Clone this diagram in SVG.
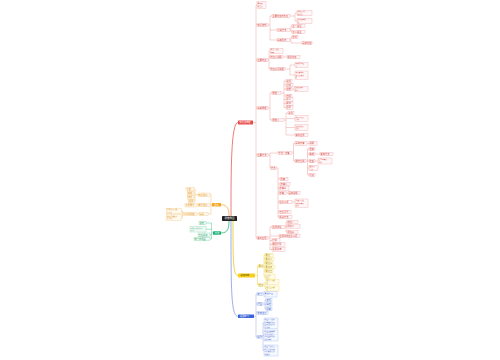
<svg xmlns="http://www.w3.org/2000/svg" width="500" height="360" viewBox="0 0 500 360">
<style>
text{font-family:"Noto Sans CJK SC","Noto Sans",sans-serif;font-size:2.2px}
text.m{font-size:1.7px}
.r{fill:#fff7f7;stroke:#f0a0a0;stroke-width:.35}.rt{fill:#d64541}
.o{fill:#fffaf0;stroke:#f7c67a;stroke-width:.35}.ot{fill:#e08e0b}
.g{fill:#f3fbf7;stroke:#7fd1a8;stroke-width:.35}.gt{fill:#1a9e62}
.y{fill:#fffde8;stroke:#f0d860;stroke-width:.35}.yt{fill:#b99400}
.b{fill:#f5f8ff;stroke:#9fb4ec;stroke-width:.35}.bt{fill:#3a5fcd}
.w{fill:#fff}
.lr{fill:none;stroke:#e88b8b;stroke-width:.4}
.lo{fill:none;stroke:#f5b041;stroke-width:.4}
.lg{fill:none;stroke:#2cb67a;stroke-width:.4}
.ly{fill:none;stroke:#e8c81a;stroke-width:.4}
.lb{fill:none;stroke:#7f9be4;stroke-width:.4}
</style>
<rect width="500" height="360" fill="#fff"/>
<g id="connectors">
<path class="lr" style="stroke-width:.8;stroke:#e85a5a" d="M231,216 C231,170 231,122.5 238,122.5"/>
<path class="ly" style="stroke-width:.8" d="M233,221 C233,260 233,275.5 238,275.5"/>
<path class="lb" style="stroke-width:.8" d="M231,221 C231,290 231,316.3 238,316.3"/>
<path class="lo" style="stroke-width:.8" d="M221,204.7 C228,204.7 229,210 229,216"/>
<path class="lg" style="stroke-width:.8" d="M221,233 C228,233 229,228 229,221"/>
<path class="lr" d="M253,122.5H256M256,5V238M256,5H257M256,25H257M256,60H257M256,108H257M256,155H257M256,238H257"/>
<path class="lr" d="M268,25H270M270,16V40M270,16H272M270,30H277M270,40H277M290,16H295M295,13V21M295,13H297M295,21H297M290,30H291M291,26V32M291,26H292M291,32H292M290,40H291M291,37V43M291,37H292M291,43H302"/>
<path class="lr" d="M268,60H269M269,51V69M269,51H270M269,57H270M269,69H270M283,57H287M285,69H290M290,65V75M290,65H295M290,75H295"/>
<path class="lr" d="M268,108H270M270,93V120M270,93H272M270,120H272M281,93H284M284,81V107.5M284,81H286M284,85H286M284,89H286M284,96H286M284,99.5H286M284,103.5H286M284,107.5H286M292,89H294M284,120H286M286,113V135M286,113H288M286,118.5H295M286,127.5H295M286,135H295"/>
<path class="lr" d="M268,155H270M270,153V168M270,153H278M270,168H270.5M292,153H293.5M293.5,143.5V161M293.5,143.5H295M293.5,161H295M307,143.5H309M306,161H307.5M307.5,149V175M307.5,149H309M307.5,154H309M307.5,161H309M307.5,168H309M307.5,175H309M315,154H320M315,161H318"/>
<path class="lr" d="M276.5,168H278M278,168V217M278,179H280M278,184H280M278,188.5H279M278,193H279M278,202H279M278,212H279M278,217H279M286,193H288M292,202H295"/>
<path class="lr" d="M268,238H270M270,227V249.5M270,227H272M270,236H279M270,240.5H272M270,244.5H272M270,249.5H272M285,227H286M286,222V232M286,222H287M286,226.5H287M286,232H287"/>
<path class="ly" d="M255,275.5H257.5M257.5,266V285M257.5,266H258.5M257.5,285H258.5M263.5,266H264M264,255V276.5M264,255H265M264,259H265M264,263H265M264,267H265M264,271H265M264,276.5H265M263.5,285H265M265,282V288.5M265,282H266M265,288.5H266"/>
<path class="lb" d="M254,316.3H256M256,294V337M256,294H257M256,304H257M256,313H257M256,337H257M263,294H264M263,304H265M265,300V309M265,300H266M265,304.5H266M265,309H266M262,337H263M263,323V350.5M263,323H264M263,335.5H264M263,350.5H264"/>
<path class="lo" d="M212,204.7H211M211,194.7V214M210,194.7H211M210,205H211M208,214H211M198,194.7H195M195,189V201.3M194,189H195M194,193.3H195M194,197.3H195M194,201.3H195M197,205H198M197,214H199M183.5,214H182.5M182.5,211V217.5M181.5,211H182.5M181.5,217.5H182.5"/>
<path class="lg" d="M213,233H211.5M211.5,223V239M206,223H211.5M206,229.2H211.5M210,234.7H211.5M210,239H211.5"/>
</g>
<g id="root"><rect x="222" y="216" width="15" height="5" rx=".6" fill="#222"/><text class="w" x="224.6" y="219.4" style="font-size:2.5px">思维导图</text></g>
<g id="red-main"><rect x="238" y="120.5" width="15" height="4" rx=".5" fill="#e84a4a"/><text class="w" x="239.6" y="123.3">知识点梳理</text></g>
<g id="rA1"><rect class="r" x="257" y="1.5" width="9" height="7"/><text class="rt m" x="257.6" y="4">基本概<tspan x="257.6" dy="2.6">念定义</tspan></text></g>
<g id="rA2"><rect class="r" x="257" y="23.3" width="11" height="3.4"/><text class="rt" x="257.6" y="25.8">知识结构</text></g>
<g id="rB1"><rect class="r" x="272" y="14.3" width="18" height="3.4"/><text class="rt" x="272.6" y="16.8">主要内容与特点</text></g>
<g id="rB1a"><rect class="r" x="297" y="10.5" width="15" height="5"/><text class="rt m" x="297.6" y="12.4">具体方法步<tspan x="297.6" dy="2.5">骤说明</tspan></text></g>
<g id="rB1b"><rect class="r" x="297" y="18.5" width="15" height="5"/><text class="rt m" x="297.6" y="20.4">相关原理分<tspan x="297.6" dy="2.5">析</tspan></text></g>
<g id="rB2"><rect class="r" x="277" y="28.3" width="13" height="3.4"/><text class="rt" x="277.6" y="30.8">分类方法</text></g>
<g id="rB2a"><rect class="r" x="292" y="24.3" width="13" height="3.4"/><text class="rt" x="292.6" y="26.8">第一类型</text></g>
<g id="rB2b"><rect class="r" x="292" y="30.3" width="13" height="3.4"/><text class="rt" x="292.6" y="32.8">第二类型</text></g>
<g id="rB3"><rect class="r" x="277" y="38.3" width="13" height="3.4"/><text class="rt" x="277.6" y="40.8">基本形式</text></g>
<g id="rB3a"><rect class="r" x="292" y="35.3" width="6" height="3.4"/><text class="rt" x="292.6" y="37.8">形式</text></g>
<g id="rB3b"><rect class="r" x="302" y="41.3" width="10" height="3.4"/><text class="rt" x="302.6" y="43.8">具体内容</text></g>
<g id="rA3"><rect class="r" x="257" y="58.3" width="11" height="3.4"/><text class="rt" x="257.6" y="60.8">主要特点</text></g>
<g id="rC1"><rect class="r" x="270" y="48.5" width="13" height="5"/><text class="rt m" x="270.6" y="50.4">特点一说明<tspan x="270.6" dy="2.5">内容</tspan></text></g>
<g id="rC2"><rect class="r" x="270" y="55.3" width="13" height="3.4"/><text class="rt" x="270.6" y="57.8">特点二说明</text></g>
<g id="rC2a"><rect class="r" x="287" y="55.3" width="13" height="3.4"/><text class="rt" x="287.6" y="57.8">相关内容</text></g>
<g id="rC3"><rect class="r" x="270" y="67.3" width="15" height="3.4"/><text class="rt" x="270.6" y="69.8">特点三及说明</text></g>
<g id="rC3a"><rect class="r" x="295" y="62.5" width="13" height="5"/><text class="rt m" x="295.6" y="64.4">具体表现形<tspan x="295.6" dy="2.5">式</tspan></text></g>
<g id="rC3b"><rect class="r" x="295" y="71" width="13" height="8.2"/><text class="rt m" x="295.6" y="73">主要影响因<tspan x="295.6" dy="2.5">素与结果分</tspan><tspan x="295.6" dy="2.5">析</tspan></text></g>
<g id="rA4"><rect class="r" x="257" y="106.3" width="11" height="3.4"/><text class="rt" x="257.6" y="108.8">基本原理</text></g>
<g id="rD1"><rect class="r" x="272" y="91.3" width="9" height="3.4"/><text class="rt" x="272.6" y="93.8">原理一</text></g>
<g id="rD1a"><rect class="r" x="286" y="79.3" width="6" height="3.4"/><text class="rt" x="286.6" y="81.8">条件</text></g>
<g id="rD1b"><rect class="r" x="286" y="83.3" width="7" height="3.4"/><text class="rt" x="286.6" y="85.8">过程</text></g>
<g id="rD1c"><rect class="r" x="286" y="87.3" width="6" height="3.4"/><text class="rt" x="286.6" y="89.8">结果</text></g>
<g id="rD1c1"><rect class="r" x="294" y="86.5" width="14" height="5"/><text class="rt m" x="294.6" y="88.4">结果的具体<tspan x="294.6" dy="2.5">表现</tspan></text></g>
<g id="rD1d"><rect class="r" x="286" y="94.3" width="6" height="3.4"/><text class="rt" x="286.6" y="96.8">作用</text></g>
<g id="rD1e"><rect class="r" x="286" y="97.8" width="7" height="3.4"/><text class="rt" x="286.6" y="100.3">意义</text></g>
<g id="rD1f"><rect class="r" x="286" y="101.8" width="7" height="3.4"/><text class="rt" x="286.6" y="104.3">影响</text></g>
<g id="rD1g"><rect class="r" x="286" y="105.8" width="7" height="3.4"/><text class="rt" x="286.6" y="108.3">应用</text></g>
<g id="rD2"><rect class="r" x="272" y="118.3" width="12" height="3.4"/><text class="rt" x="272.6" y="120.8">原理二</text></g>
<g id="rD2a"><rect class="r" x="288" y="111.3" width="6" height="3.4"/><text class="rt" x="288.6" y="113.8">条件</text></g>
<g id="rD2b"><rect class="r" x="295" y="115.5" width="13" height="6"/><text class="rt m" x="295.6" y="117.8">主要过程及<tspan x="295.6" dy="2.5">步骤</tspan></text></g>
<g id="rD2c"><rect class="r" x="295" y="124.5" width="13" height="6"/><text class="rt m" x="295.6" y="126.8">结果分析与<tspan x="295.6" dy="2.5">说明</tspan></text></g>
<g id="rD2d"><rect class="r" x="295" y="133.3" width="13" height="3.4"/><text class="rt" x="295.6" y="135.8">实际应用</text></g>
<g id="rA5"><rect class="r" x="257" y="153.3" width="11" height="3.4"/><text class="rt" x="257.6" y="155.8">主要方法</text></g>
<g id="rE1"><rect class="r" x="278" y="151.3" width="14" height="3.4"/><text class="rt" x="278.6" y="153.8">方法一步骤</text></g>
<g id="rE1a"><rect class="r" x="295" y="141.5" width="12" height="4"/><text class="rt" x="295.6" y="144.3">具体步骤</text></g>
<g id="rE1a1"><rect class="r" x="309" y="141.8" width="8" height="3.4"/><text class="rt" x="309.6" y="144.3">说明</text></g>
<g id="rE1b"><rect class="r" x="295" y="159.3" width="11" height="3.4"/><text class="rt" x="295.6" y="161.8">操作过程</text></g>
<g id="rE1b1"><rect class="r" x="309" y="147.3" width="6" height="3.4"/><text class="rt" x="309.6" y="149.8">准备</text></g>
<g id="rE1b2"><rect class="r" x="309" y="152.3" width="6" height="3.4"/><text class="rt" x="309.6" y="154.8">实施</text></g>
<g id="rE1b2a"><rect class="r" x="320" y="152.3" width="13" height="3.4"/><text class="rt" x="320.6" y="154.8">实施方法</text></g>
<g id="rE1b3"><rect class="r" x="309" y="159.3" width="6" height="3.4"/><text class="rt" x="309.6" y="161.8">检查</text></g>
<g id="rE1b3a"><rect class="r" x="318" y="158" width="14" height="6"/><text class="rt m" x="318.6" y="160.3">检查内容及<tspan x="318.6" dy="2.5">标准</tspan></text></g>
<g id="rE1b4"><rect class="r" x="309" y="165.5" width="9" height="5"/><text class="rt m" x="309.6" y="167.4">总结与<tspan x="309.6" dy="2.5">反思</tspan></text></g>
<g id="rE1b5"><rect class="r" x="309" y="173.3" width="6" height="3.4"/><text class="rt" x="309.6" y="175.8">改进</text></g>
<g id="rE2"><rect class="r" x="270.5" y="166.3" width="6" height="3.4"/><text class="rt" x="271.1" y="168.8">方法</text></g>
<g id="rE2a"><rect class="r" x="280" y="177.3" width="8" height="3.4"/><text class="rt" x="280.6" y="179.8">步骤一</text></g>
<g id="rE2b"><rect class="r" x="280" y="182.3" width="10" height="3.4"/><text class="rt" x="280.6" y="184.8">步骤二</text></g>
<g id="rE2c"><rect class="r" x="279" y="186.8" width="10" height="3.4"/><text class="rt" x="279.6" y="189.3">步骤三</text></g>
<g id="rE2d"><rect class="r" x="279" y="191.3" width="7" height="3.4"/><text class="rt" x="279.6" y="193.8">步骤</text></g>
<g id="rE2d1"><rect class="r" x="288" y="191.3" width="12" height="3.4"/><text class="rt" x="288.6" y="193.8">具体说明</text></g>
<g id="rE2e"><rect class="r" x="279" y="200.3" width="13" height="3.4"/><text class="rt" x="279.6" y="202.8">注意事项</text></g>
<g id="rE2e1"><rect class="r" x="295" y="199" width="13" height="8.2"/><text class="rt m" x="295.6" y="201">注意事项的<tspan x="295.6" dy="2.5">具体内容与</tspan><tspan x="295.6" dy="2.5">说明</tspan></text></g>
<g id="rE2f"><rect class="r" x="279" y="210.3" width="12" height="3.4"/><text class="rt" x="279.6" y="212.8">常见问题</text></g>
<g id="rE2g"><rect class="r" x="279" y="215.3" width="13" height="3.4"/><text class="rt" x="279.6" y="217.8">解决方法</text></g>
<g id="rA6"><rect class="r" x="257" y="236.3" width="11" height="3.4"/><text class="rt" x="257.6" y="238.8">实际应用</text></g>
<g id="rF1"><rect class="r" x="272" y="225.3" width="13" height="3.4"/><text class="rt" x="272.6" y="227.8">应用领域</text></g>
<g id="rF1a"><rect class="r" x="287" y="220.3" width="11" height="3.4"/><text class="rt" x="287.6" y="222.8">领域一</text></g>
<g id="rF1b"><rect class="r" x="287" y="224.8" width="13" height="3.4"/><text class="rt" x="287.6" y="227.3">领域二</text></g>
<g id="rF1c"><rect class="r" x="287" y="230.3" width="11" height="3.4"/><text class="rt" x="287.6" y="232.8">领域三</text></g>
<g id="rF2"><rect class="r" x="279" y="234.3" width="21" height="3.4"/><text class="rt" x="279.6" y="236.8">应用中的注意事项</text></g>
<g id="rF3"><rect class="r" x="272" y="238.8" width="8" height="3.4"/><text class="rt" x="272.6" y="241.3">案例</text></g>
<g id="rF4"><rect class="r" x="272" y="242.8" width="13" height="3.4"/><text class="rt" x="272.6" y="245.3">典型案例</text></g>
<g id="rF5"><rect class="r" x="272" y="247.8" width="13" height="3.4"/><text class="rt" x="272.6" y="250.3">拓展延伸</text></g>
<g id="yellow-main"><rect x="238" y="273.5" width="17" height="4" rx=".5" fill="#f7cf1d"/><text x="240.5" y="276.3" fill="#5a4a00">总结归纳</text></g>
<g id="yY1"><rect class="y" x="258.5" y="264.3" width="5" height="3.4"/><text class="yt" x="258.8" y="266.8">要点</text></g>
<g id="yY1a"><rect class="y" x="265" y="253.3" width="8" height="3.4"/><text class="yt" x="265.6" y="255.8">要点一</text></g>
<g id="yY1b"><rect class="y" x="265" y="257.3" width="9" height="3.4"/><text class="yt" x="265.6" y="259.8">要点二</text></g>
<g id="yY1c"><rect class="y" x="265" y="261.3" width="8" height="3.4"/><text class="yt" x="265.6" y="263.8">要点三</text></g>
<g id="yY1d"><rect class="y" x="265" y="265.3" width="10" height="3.4"/><text class="yt" x="265.6" y="267.8">要点四</text></g>
<g id="yY1e"><rect class="y" x="265" y="269.3" width="8" height="3.4"/><text class="yt" x="265.6" y="271.8">要点五</text></g>
<g id="yY1f"><rect class="y" x="265" y="274" width="10" height="5"/><text class="yt m" x="265.6" y="275.9">要点六<tspan x="265.6" dy="2.5">说明</tspan></text></g>
<g id="yY2"><rect class="y" x="258.5" y="283.3" width="5" height="3.4"/><text class="yt" x="258.8" y="285.8">难点</text></g>
<g id="yY2a"><rect class="y" x="266" y="279.5" width="13" height="5"/><text class="yt m" x="266.6" y="281.4">难点一及解<tspan x="266.6" dy="2.5">析</tspan></text></g>
<g id="yY2b"><rect class="y" x="266" y="286" width="13" height="5"/><text class="yt m" x="266.6" y="287.9">难点二及解<tspan x="266.6" dy="2.5">析</tspan></text></g>
<g id="blue-main"><rect x="238" y="314.5" width="16" height="3.6" rx=".5" fill="#3c64d8"/><text class="w" x="240" y="317.1">拓展练习</text></g>
<g id="bG1"><rect class="b" x="257" y="292.3" width="6" height="3.4"/><text class="bt" x="257.6" y="294.8">练习</text></g>
<g id="bG1a"><rect class="b" x="264" y="291.5" width="13" height="5.5"/><text class="bt m" x="264.6" y="293.5">基础练习题<tspan x="264.6" dy="2.5">目</tspan></text></g>
<g id="bG2"><rect class="b" x="257" y="302.3" width="6" height="3.4"/><text class="bt" x="257.6" y="304.8">题型</text></g>
<g id="bG2a"><rect class="b" x="266" y="298.3" width="6" height="3.4"/><text class="bt" x="266.6" y="300.8">选择</text></g>
<g id="bG2b"><rect class="b" x="266" y="302.8" width="6" height="3.4"/><text class="bt" x="266.6" y="305.3">填空</text></g>
<g id="bG2c"><rect class="b" x="266" y="307.3" width="6" height="3.4"/><text class="bt" x="266.6" y="309.8">判断</text></g>
<g id="bG3"><rect class="b" x="257" y="311.3" width="11" height="3.4"/><text class="bt" x="257.6" y="313.8">参考答案</text></g>
<g id="bG4"><rect class="b" x="257" y="335.3" width="5" height="3.4"/><text class="bt" x="257.3" y="337.8">例题</text></g>
<g id="bG4a"><rect class="b" x="264" y="318" width="14" height="10.5"/><text class="bt m" x="264.5" y="320">例题一已知条<tspan x="264.5" dy="2.5">件求解相关问</tspan><tspan x="264.5" dy="2.5">题并说明过程</tspan><tspan x="264.5" dy="2.5">与结果</tspan></text></g>
<g id="bG4b"><rect class="b" x="264" y="330" width="14" height="11"/><text class="bt m" x="264.5" y="332.2">例题二根据所<tspan x="264.5" dy="2.5">学知识分析下</tspan><tspan x="264.5" dy="2.5">列问题并作答</tspan><tspan x="264.5" dy="2.5">说明理由</tspan></text></g>
<g id="bG4c"><rect class="b" x="264" y="345" width="14" height="11"/><text class="bt m" x="264.5" y="347.2">例题三结合实<tspan x="264.5" dy="2.5">际情况说明原</tspan><tspan x="264.5" dy="2.5">因及解决方法</tspan><tspan x="264.5" dy="2.5">并总结</tspan></text></g>
<g id="orange-main"><rect x="212" y="203" width="9" height="3.4" rx=".5" fill="#f5a623"/><text class="w" x="214.3" y="205.5">目标</text></g>
<g id="oO1"><rect class="o" x="198" y="193" width="12" height="3.4"/><text class="ot" x="198.6" y="195.5">知识目标</text></g>
<g id="oO1a"><rect class="o" x="186" y="187.3" width="8" height="3.4"/><text class="ot" x="186.6" y="189.8">了解</text></g>
<g id="oO1b"><rect class="o" x="187.5" y="191.6" width="6.5" height="3.4"/><text class="ot" x="188" y="194.1">理解</text></g>
<g id="oO1c"><rect class="o" x="187.5" y="195.6" width="6.5" height="3.4"/><text class="ot" x="188" y="198.1">掌握</text></g>
<g id="oO1d"><rect class="o" x="188.5" y="199.6" width="5.5" height="3.4"/><text class="ot" x="188.8" y="202.1">运用</text></g>
<g id="oO2"><rect class="o" x="198" y="203.3" width="12" height="3.4"/><text class="ot" x="198.6" y="205.8">能力目标</text></g>
<g id="oO2a"><rect class="o" x="185" y="203.6" width="12" height="3.4"/><text class="ot" x="185.6" y="206.1">分析能力</text></g>
<g id="oO3"><rect class="o" x="199" y="212.3" width="9" height="3.4"/><text class="ot" x="199.6" y="214.8">情感</text></g>
<g id="oO3a"><rect class="o" x="183.5" y="212.3" width="13.5" height="3.4"/><text class="ot" x="184.1" y="214.8">价值观培养</text></g>
<g id="oO3a1"><rect class="o" x="166.5" y="208.5" width="15" height="5"/><text class="ot m" x="167.1" y="210.4">培养学习兴趣<tspan x="167.1" dy="2.5">与习惯</tspan></text></g>
<g id="oO3a2"><rect class="o" x="166.5" y="214.5" width="15" height="6"/><text class="ot m" x="167.1" y="216.8">树立正确的价<tspan x="167.1" dy="2.5">值观念</tspan></text></g>
<g id="green-main"><rect x="213" y="231.3" width="8" height="3.4" rx=".5" fill="#1fb37a"/><text class="w" x="214.8" y="233.8">方法</text></g>
<g id="gA"><rect class="g" x="199" y="221.3" width="7" height="3.4"/><text class="gt" x="199.6" y="223.8">讲授</text></g>
<g id="gB"><rect class="g" x="190" y="226.5" width="16" height="5.5"/><text class="gt m" x="190.6" y="228.5">讨论与合作学习<tspan x="190.6" dy="2.5">交流</tspan></text></g>
<g id="gC"><rect class="g" x="198" y="233" width="12" height="3.4"/><text class="gt" x="198.6" y="235.5">自主探究</text></g>
<g id="gD"><rect class="g" x="194" y="237.3" width="16" height="3.4"/><text class="gt" x="194.6" y="239.8">练习与巩固</text></g>
</svg>
